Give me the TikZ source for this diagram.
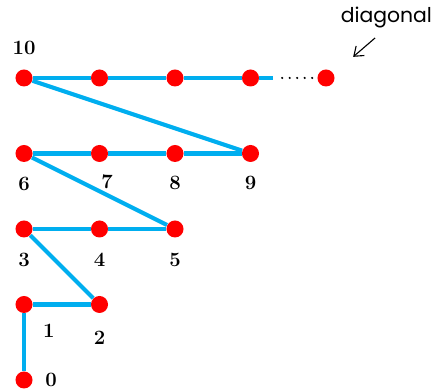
\documentclass[tikz,border=0pt]{standalone}
\usepackage{fontspec}
\usepackage{xcolor}
\usepackage{tikz}
\usetikzlibrary{arrows.meta,positioning,calc}
\newfontfamily\diagfont{Poppins}
\definecolor{linkblue}{RGB}{0,174,239}

\begin{document}
\begin{tikzpicture}[
  x=1.434cm,y=1.434cm,
  pt/.style={circle,fill=red,inner sep=0pt,minimum size=9.2pt},
  num/.style={font=\fontsize{11}{13}\selectfont\bfseries,inner sep=3pt},
  link/.style={draw=linkblue,line width=2.2pt},
  dotline/.style={draw=black,line width=1.3pt,line cap=round,dash pattern=on 0pt off 4.05pt},
  arr/.style={-{Straight Barb[length=1.6mm,width=2.4mm]},line width=0.6pt}
]
\useasboundingbox (-0.318,-0.132) rectangle (5.457,5.033);
% grid points
\node[pt] (p0) at (0,0) {};
\node[pt] (p1) at (0,1) {};
\node[pt] (p2) at (1,1) {};
\node[pt] (p3) at (0,2) {};
\node[pt] (p4) at (1,2) {};
\node[pt] (p5) at (2,2) {};
\node[pt] (p6) at (0,3) {};
\node[pt] (p7) at (1,3) {};
\node[pt] (p8) at (2,3) {};
\node[pt] (p9) at (3,3) {};
\node[pt] (p10) at (0,4) {};
\node[pt] (q1) at (1,4) {};
\node[pt] (q2) at (2,4) {};
\node[pt] (q3) at (3,4) {};
\node[pt] (qn) at (4,4) {};
\coordinate (lineend) at (3.3,4);
\coordinate (dotsa) at (3.42,4);
\coordinate (dotsb) at (3.82,4);
% labels
\node[num] at ($(p0)+(0.36,0)$) {0};
\node[num] at ($(p1)+(0.33,-0.35)$) {1};
\node[num,below=6.5pt of p2] {2};
\node[num,below=5pt of p3] {3};
\node[num,below=5pt of p4] {4};
\node[num,below=5pt of p5] {5};
\node[num,below=5pt of p6] {6};
\node[num] at ($(p7)+(0.1,-0.37)$) {7};
\node[num,below=4.5pt of p8] {8};
\node[num,below=4.5pt of p9] {9};
\node[num,above=4.5pt of p10] {10};
% the zig-zag path
\draw[link] (p0) -- (p1);
\draw[link] (p1) -- (p2);
\draw[link] (p2) -- (p3);
\draw[link] (p3) -- (p4);
\draw[link] (p4) -- (p5);
\draw[link] (p5) -- (p6);
\draw[link] (p6) -- (p7);
\draw[link] (p7) -- (p8);
\draw[link] (p8) -- (p9);
\draw[link] (p9) -- (p10);
\draw[link] (p10) -- (q1);
\draw[link] (q1) -- (q2);
\draw[link] (q2) -- (q3);
\draw[link] (q3) -- (lineend);
\draw[dotline] (dotsa) -- (dotsb);
% note
\node[font=\diagfont\fontsize{11}{13}\selectfont] (diag) at (4.8,4.8) {diagonal};
\coordinate (arrfrom) at (4.65,4.53);
\coordinate (arrto) at (4.36,4.28);
\draw[arr] (arrfrom) -- (arrto);
\end{tikzpicture}
\end{document}
